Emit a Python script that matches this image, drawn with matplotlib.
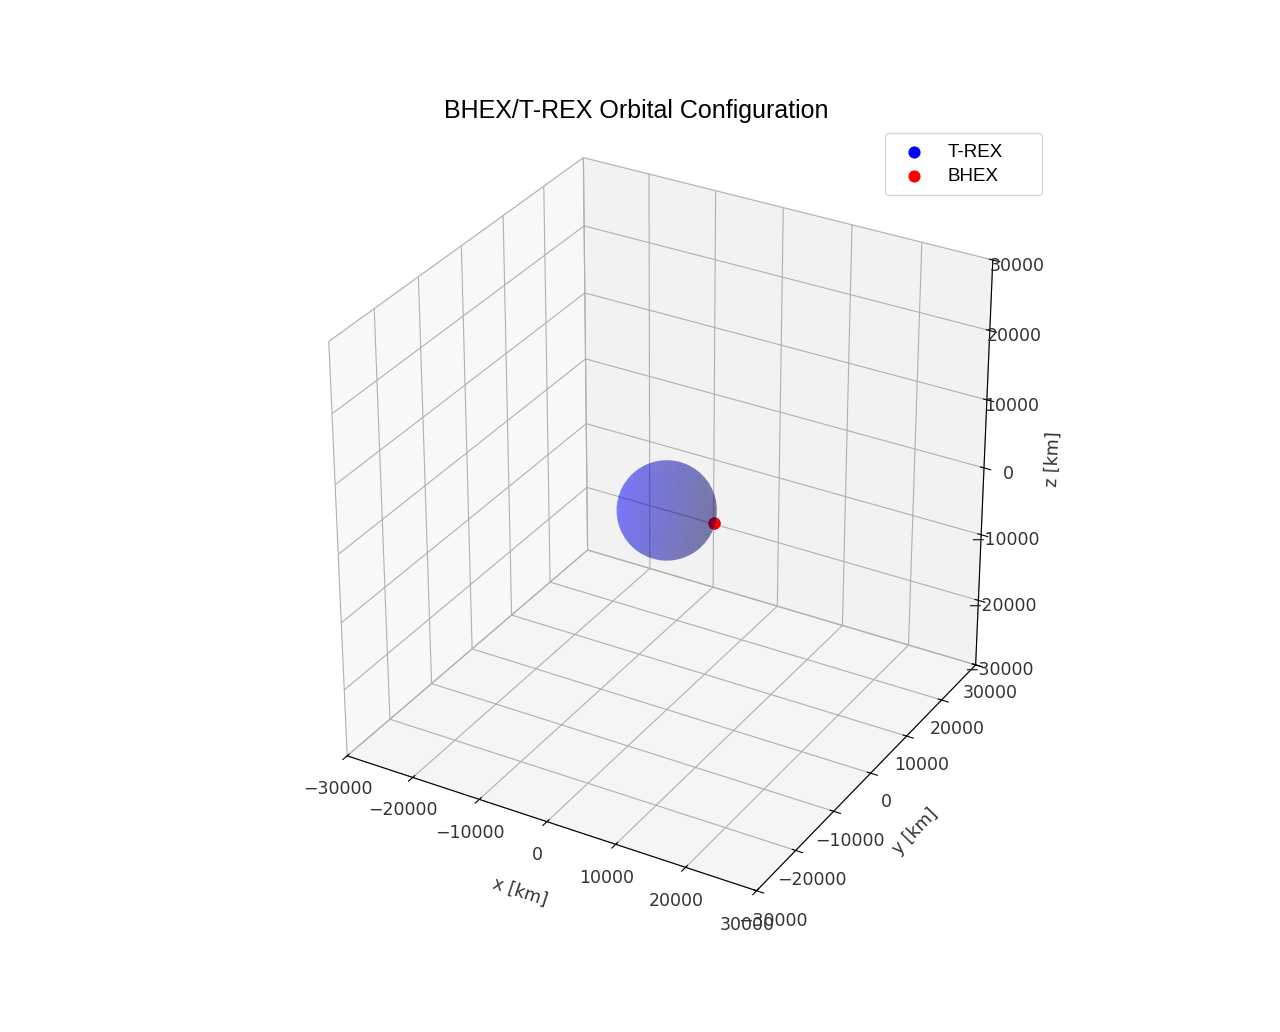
"""BHEX / T-REX orbital configuration snapshot (3D)."""

import numpy as np
import matplotlib
matplotlib.use("Agg")
import matplotlib.pyplot as plt

# Earth and spacecraft positions, km
EARTH_RADIUS = 6371.0
AXIS_LIMIT = 30000
TICKS = [-30000, -20000, -10000, 0, 10000, 20000, 30000]

trex_pos = [6700.0, 250.0, 0.0]
bhex_pos = [6700.0, 250.0, 0.0]

fig = plt.figure(figsize=(12.8, 10.32), dpi=100)
ax = fig.add_subplot(projection="3d")

# Earth
u = np.linspace(0, 2 * np.pi, 60)
v = np.linspace(0, np.pi, 30)
xs = EARTH_RADIUS * np.outer(np.cos(u), np.sin(v))
ys = EARTH_RADIUS * np.outer(np.sin(u), np.sin(v))
zs = EARTH_RADIUS * np.outer(np.ones_like(u), np.cos(v))
ax.plot_surface(xs, ys, zs, color="b", alpha=0.3, linewidth=0)

ax.scatter(*[[c] for c in trex_pos], color="blue", s=60, label="T-REX")
ax.scatter(*[[c] for c in bhex_pos], color="red", s=60, label="BHEX")

ax.set_xlim(-AXIS_LIMIT, AXIS_LIMIT)
ax.set_ylim(-AXIS_LIMIT, AXIS_LIMIT)
ax.set_zlim(-AXIS_LIMIT, AXIS_LIMIT)
ax.set_box_aspect([1, 1, 1])
ax.set_xticks(TICKS)
ax.set_yticks(TICKS)
ax.set_zticks(TICKS)
ax.tick_params(labelsize=12.5, labelcolor="#333333")
ax.set_xlabel("x [km]", fontsize=12.5, labelpad=12, color="#333333")
ax.set_ylabel("y [km]", fontsize=12.5, labelpad=12, color="#333333")
ax.set_zlabel("z [km]", fontsize=12.5, labelpad=12, color="#333333")

ax.set_title("BHEX/T-REX Orbital Configuration", x=0.475, pad=4,
             fontsize=18, family="Liberation Sans")
ax.legend(loc="upper right", bbox_to_anchor=(0.788, 0.788, 0.1975, 0.2),
          mode="expand", borderaxespad=0, labelspacing=0.35, borderpad=0.55,
          prop={"family": "Liberation Sans", "size": 13.5})

fig.savefig("out.png", dpi=100)
